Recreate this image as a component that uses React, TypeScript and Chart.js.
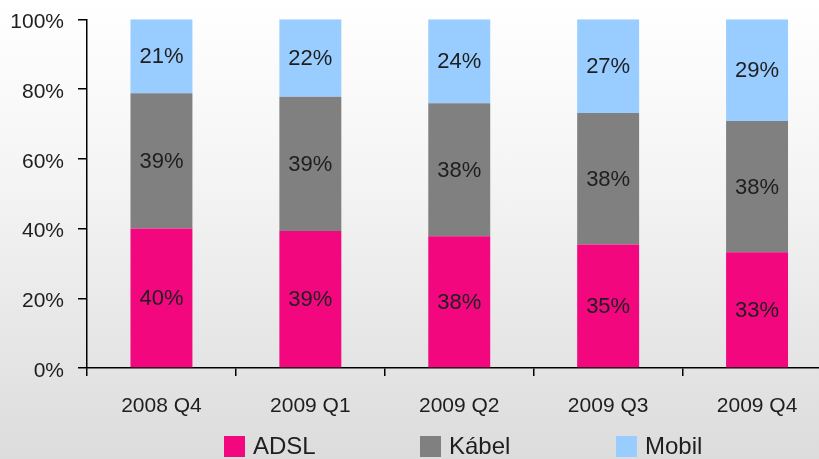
import React, { useEffect, useRef } from "react";
import { Chart, registerables } from "chart.js";

Chart.register(...registerables);

const categories = ["2008 Q4", "2009 Q1", "2009 Q2", "2009 Q3", "2009 Q4"];
const seriesNames = ["ADSL", "Kábel", "Mobil"];
const adsl = [40.0, 39.3, 37.8, 35.4, 33.2];
const kabel = [38.8, 38.5, 38.1, 37.7, 37.6];
const mobil = [21.2, 22.2, 24.1, 26.9, 29.2];
const colors = ["#f2077f", "#808080", "#99ccff"];
const yTicks = [0, 20, 40, 60, 80, 100];

const FONT = "'Liberation Sans', Arial, sans-serif";
const TEXT = "#1e1e1e";

const barLabels = {
  id: "barLabels",
  afterDatasetsDraw(chart: any) {
    const ctx = chart.ctx;
    ctx.save();
    ctx.font = `22px ${FONT}`;
    ctx.fillStyle = TEXT;
    ctx.textAlign = "center";
    ctx.textBaseline = "middle";
    chart.data.datasets.forEach((ds: any, i: number) => {
      const meta = chart.getDatasetMeta(i);
      meta.data.forEach((bar: any, j: number) => {
        const v = ds.data[j];
        const yc = (bar.y + bar.base) / 2;
        ctx.fillText(Math.round(v) + "%", bar.x, yc + 1);
      });
    });
    ctx.restore();
  },
};

const customLegend = {
  id: "customLegend",
  afterDraw(chart: any) {
    const ctx = chart.ctx;
    const area = chart.chartArea;
    ctx.save();
    const box = 21;
    const step = 196;
    const x0 = area.left + 137;
    const yTop = 436;
    ctx.font = `24px ${FONT}`;
    ctx.textBaseline = "middle";
    ctx.textAlign = "left";
    chart.data.datasets.forEach((ds: any, i: number) => {
      const x = x0 + i * step;
      ctx.fillStyle = ds.backgroundColor;
      ctx.fillRect(x, yTop, box, box);
      ctx.fillStyle = TEXT;
      ctx.fillText(ds.label, x + 29, yTop + box / 2 + 1);
    });
    ctx.restore();
  },
};

export default function App() {
  const ref = useRef<HTMLCanvasElement>(null);
  useEffect(() => {
    if (!ref.current) return;
    const seriesData = [adsl, kabel, mobil];
    const chart = new Chart(ref.current, {
      type: "bar",
      data: {
        labels: categories,
        datasets: seriesNames.map((name, i) => ({
          label: name,
          data: seriesData[i],
          backgroundColor: colors[i],
          borderWidth: 0,
          barPercentage: 0.416,
          categoryPercentage: 1,
        })),
      },
      options: {
        animation: false,
        responsive: false,
        devicePixelRatio: 1,
        layout: { padding: { top: 18, right: 18.5, bottom: 0, left: 0 } },
        plugins: { legend: { display: false }, tooltip: { enabled: false } },
        scales: {
          x: {
            stacked: true,
            afterFit: (s: any) => {
              s.height = 91;
            },
            border: { display: true, color: "#000", width: 1.5 },
            grid: { display: true, drawOnChartArea: false, drawTicks: true, tickLength: 8, color: "#000", lineWidth: 1.5, offset: true },
            ticks: { color: TEXT, font: { family: FONT, size: 21 }, padding: 18, maxRotation: 0 },
          },
          y: {
            stacked: true,
            min: 0,
            max: 100,
            afterFit: (s: any) => {
              s.width = 87;
            },
            afterBuildTicks: (s: any) => {
              s.ticks = yTicks.map((v) => ({ value: v }));
            },
            border: { display: true, color: "#000", width: 1.5 },
            grid: { display: true, drawOnChartArea: false, drawTicks: true, tickLength: 9, color: "#000", lineWidth: 1.5 },
            ticks: { color: TEXT, font: { family: FONT, size: 21, lineHeight: 0.5 }, padding: 14, labelOffset: 3, callback: (v: any) => v + "%" },
          },
        },
      },
      plugins: [barLabels, customLegend],
    });
    return () => chart.destroy();
  }, []);
  return (
    <div
      style={{
        position: "absolute",
        left: 0,
        top: 0,
        width: 819,
        height: 459,
        overflow: "hidden",
        background: "linear-gradient(to bottom, #ffffff 0%, #f4f4f4 40%, #dcdcdc 100%)",
      }}
    >
      <canvas ref={ref} width={850} height={459} style={{ display: "block" }} />
    </div>
  );
}
